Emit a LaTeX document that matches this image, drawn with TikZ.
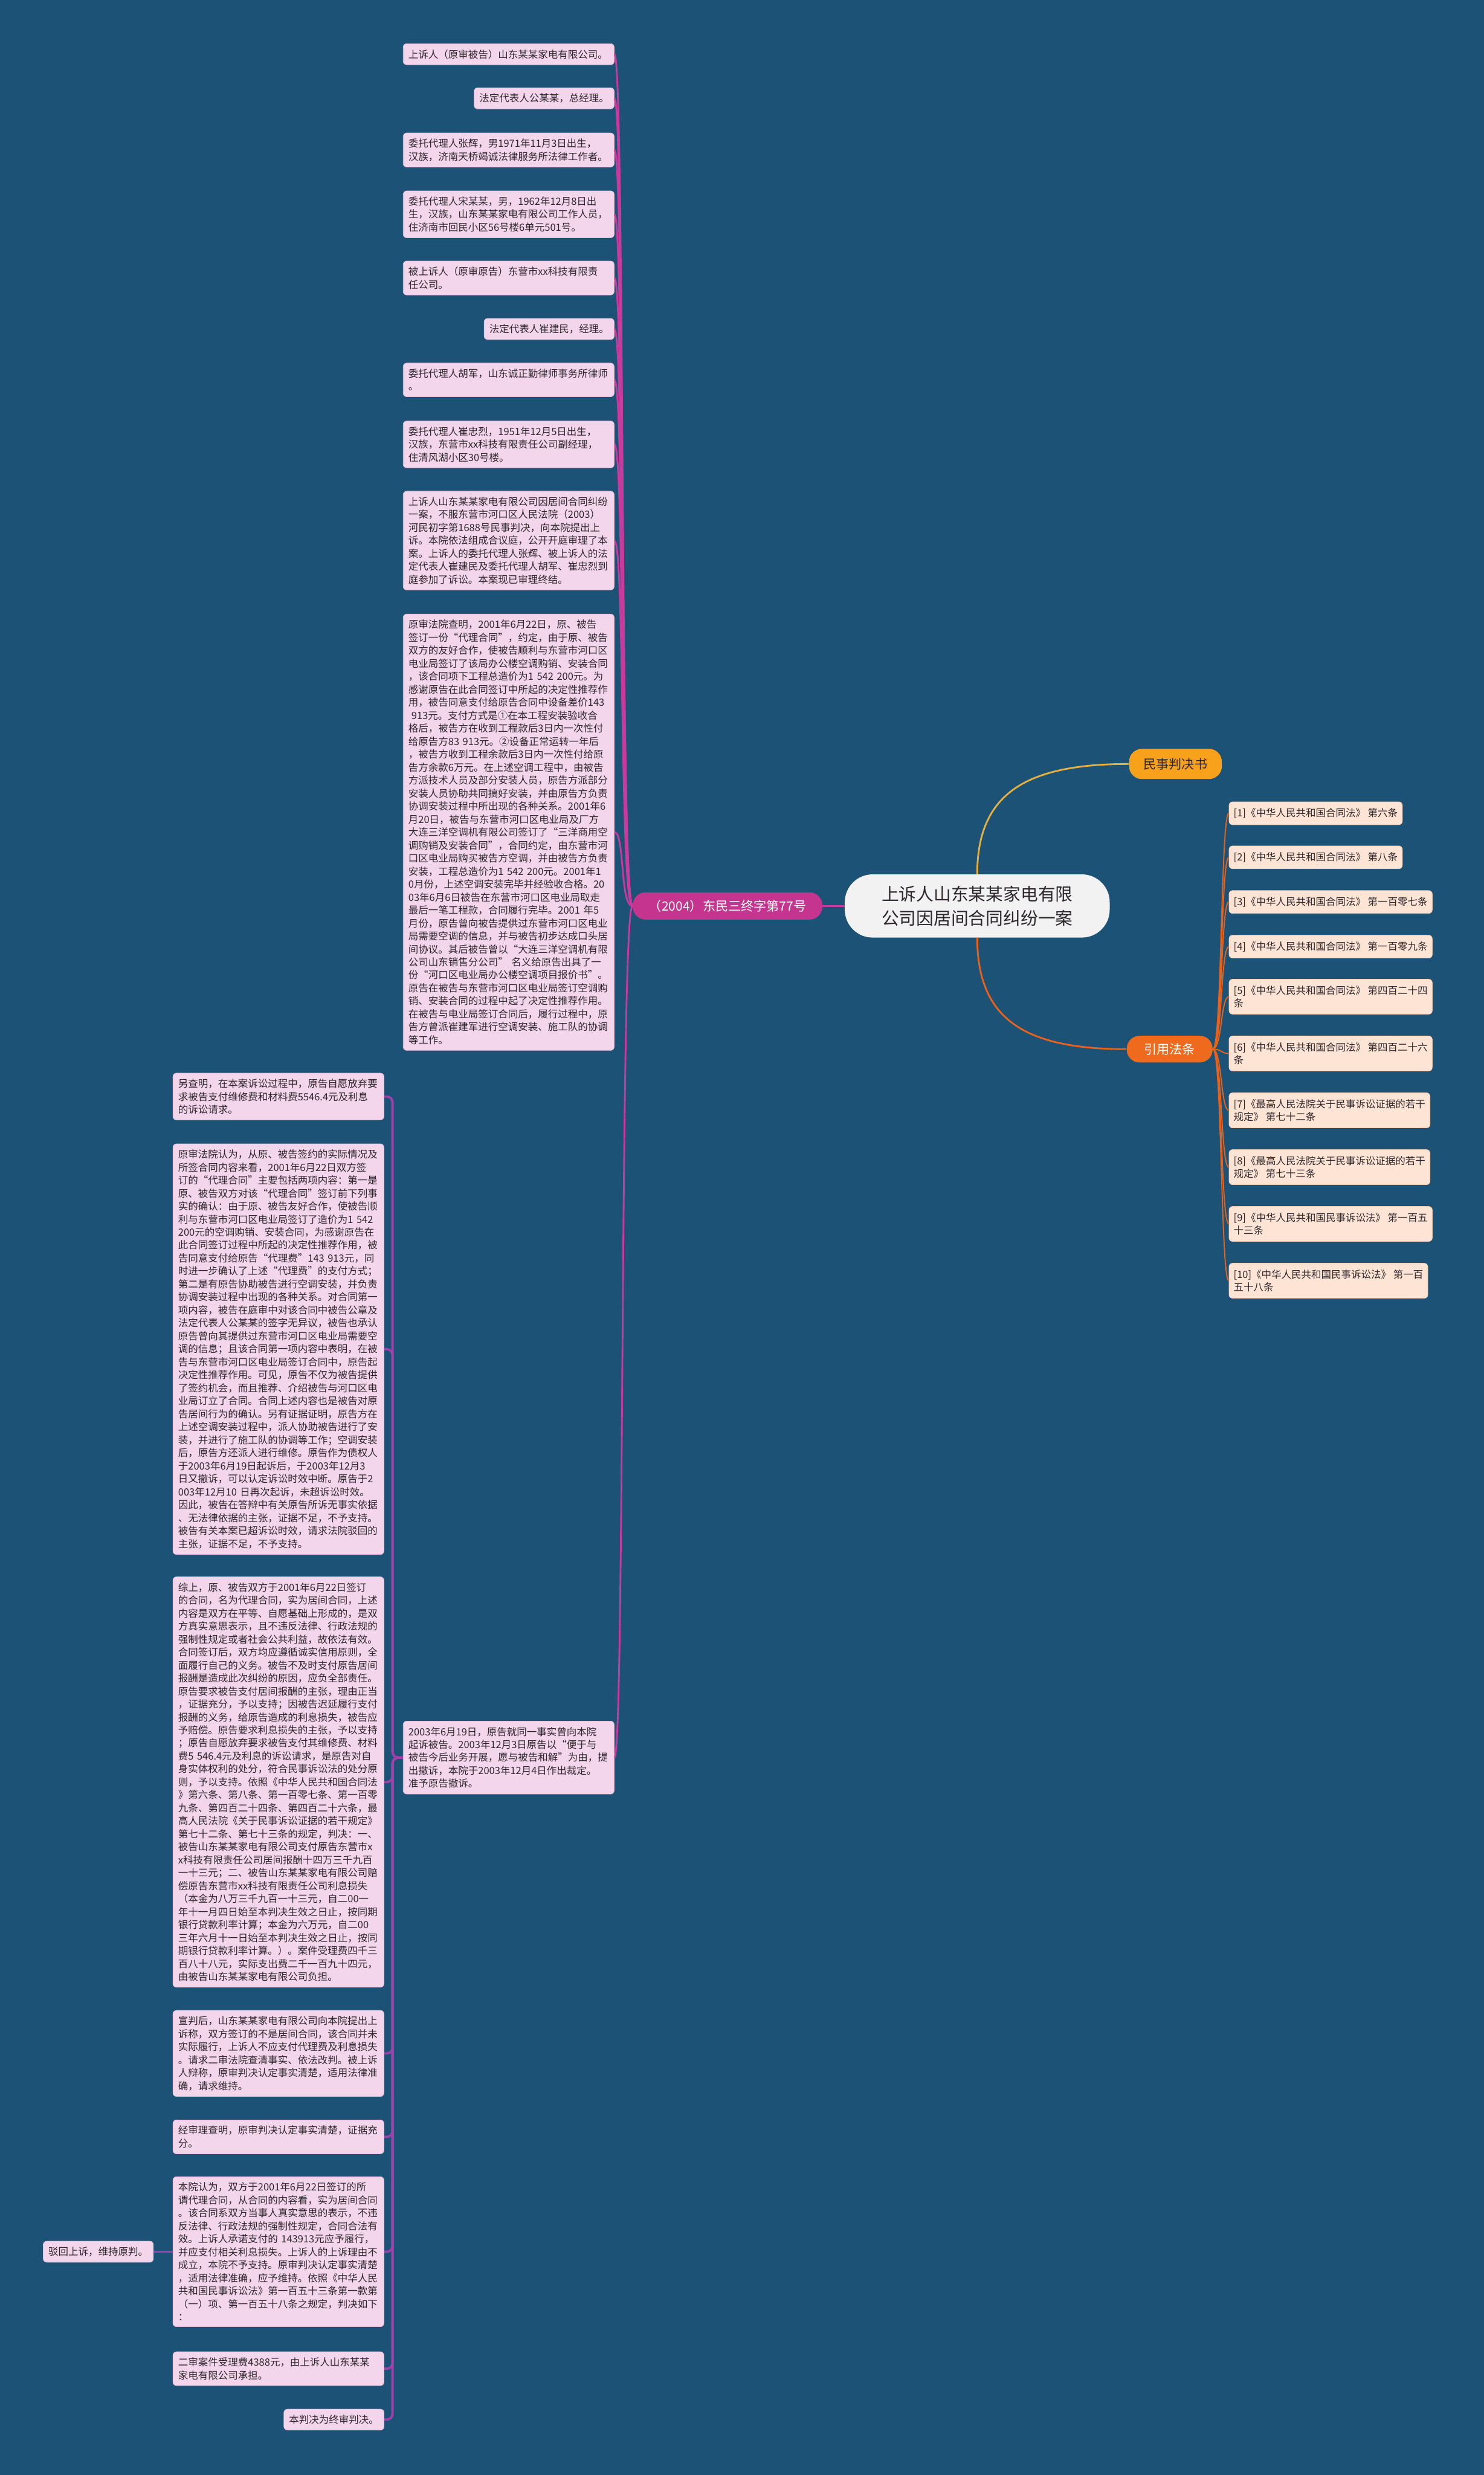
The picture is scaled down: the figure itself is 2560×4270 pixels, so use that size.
\documentclass[tikz,border=0pt]{standalone}
\usepackage{fontspec}
\setmainfont{Noto Sans CJK SC}
\usepackage{tikz}
\usetikzlibrary{positioning}
\definecolor{BgBlue}{RGB}{27,82,118}
\definecolor{LeafPink}{RGB}{244,214,236}
\definecolor{LeafEdge}{RGB}{226,186,214}
\definecolor{LawPeach}{RGB}{253,228,212}
\definecolor{LawEdge}{RGB}{240,200,175}
\definecolor{InkDark}{RGB}{45,38,44}
\definecolor{RootGrey}{RGB}{242,242,242}
\definecolor{BranchMagenta}{RGB}{197,52,143}
\definecolor{LinkMagenta}{RGB}{200,58,158}
\definecolor{TrunkPurple}{RGB}{160,64,170}
\definecolor{GoldTag}{RGB}{248,161,27}
\definecolor{LinkGold}{RGB}{230,176,64}
\definecolor{OrangeTag}{RGB}{240,106,30}
\definecolor{LinkOrange}{RGB}{232,98,28}

\newcommand\leaffont{\fontsize{8.6pt}{11.2pt}\selectfont}
\newcommand\tagfont{\fontsize{11pt}{13pt}\selectfont}
\newcommand\rootfont{\fontsize{15pt}{21pt}\selectfont}

\tikzset{
  leaf/.style={fill=LeafPink, draw=LeafEdge, line width=0.4pt, rounded corners=3pt,
    inner xsep=4.5pt, inner ysep=5pt, align=left, text=InkDark, font=\leaffont},
  leafwide/.style={leaf, text width=173pt},
  lawbox/.style={fill=LawPeach, draw=LawEdge, line width=0.4pt, rounded corners=3pt,
    inner xsep=4pt, inner ysep=5.5pt, align=left, text=InkDark, font=\leaffont},
  tagpill/.style={rounded corners=11pt, inner xsep=0pt, inner ysep=0pt, align=center, font=\tagfont},
  rootbox/.style={fill=RootGrey, text=InkDark, rounded corners=24pt, minimum width=228.5pt,
    minimum height=54.5pt, align=center, font=\rootfont},
  magline/.style={draw=LinkMagenta, line width=1.5pt},
  trunkline/.style={draw=TrunkPurple, line width=2pt, rounded corners=5pt},
  lawline/.style={draw=LinkOrange, line width=1pt},
}

\begin{document}
\begin{tikzpicture}[x=0.5pt,y=-0.5pt]
  \fill[BgBlue] (0,0) rectangle (2560,4270);
  \useasboundingbox (0,0) rectangle (2560,4270);

  % root and the three tags
  \node[rootbox] (root) at (1686,1563) {上诉人山东某某家电有限\\公司因居间合同纠纷一案};
  \node[tagpill, fill=BranchMagenta, text=white, minimum width=163.5pt, minimum height=23.5pt,
        left=19pt of root] (case) {（2004）东民三终字第77号};
  \node[tagpill, fill=GoldTag, text=InkDark, minimum width=80pt, minimum height=26pt] (ruling) at (2028,1318) {民事判决书};
  \node[tagpill, fill=OrangeTag, text=white, minimum width=74pt, minimum height=23pt] (laws) at (2018,1810) {引用法条};

  % parties and facts
  \node[leafwide, anchor=north east] (a1) at (1060,75) {上诉人（原审被告）山东某某家电有限公司。};
  \node[leaf, anchor=north east] (a2) at (1060,151) {法定代表人公某某，总经理。};
  \node[leafwide, anchor=north east] (a3) at (1060,229) {委托代理人张辉，男1971年11月3日出生，\\汉族，济南天桥竭诚法律服务所法律工作者。};
  \node[leafwide, anchor=north east] (a4) at (1060,329) {委托代理人宋某某，男，1962年12月8日出\\生，汉族，山东某某家电有限公司工作人员，\\住济南市回民小区56号楼6单元501号。};
  \node[leafwide, anchor=north east] (a5) at (1060,450) {被上诉人（原审原告）东营市xx科技有限责\\任公司。};
  \node[leaf, anchor=north east] (a6) at (1060,549) {法定代表人崔建民，经理。};
  \node[leafwide, anchor=north east] (a7) at (1060,626) {委托代理人胡军，山东诚正勤律师事务所律师\\。};
  \node[leafwide, anchor=north east] (a8) at (1060,726) {委托代理人崔忠烈，1951年12月5日出生，\\汉族，东营市xx科技有限责任公司副经理，\\住清风湖小区30号楼。};
  \node[leafwide, anchor=north east] (a9) at (1060,847) {上诉人山东某某家电有限公司因居间合同纠纷\\一案，不服东营市河口区人民法院（2003）\\河民初字第1688号民事判决，向本院提出上\\诉。本院依法组成合议庭，公开开庭审理了本\\案。上诉人的委托代理人张辉、被上诉人的法\\定代表人崔建民及委托代理人胡军、崔忠烈到\\庭参加了诉讼。本案现已审理终结。};
  \node[leafwide, anchor=north east] (a10) at (1060,1059) {原审法院查明，2001年6月22日，原、被告\\签订一份“代理合同”，约定，由于原、被告\\双方的友好合作，使被告顺利与东营市河口区\\电业局签订了该局办公楼空调购销、安装合同\\，该合同项下工程总造价为1~542~200元。为\\感谢原告在此合同签订中所起的决定性推荐作\\用，被告同意支付给原告合同中设备差价143\\\hspace{0.3em}913元。支付方式是①在本工程安装验收合\\格后，被告方在收到工程款后3日内一次性付\\给原告方83~913元。②设备正常运转一年后\\，被告方收到工程余款后3日内一次性付给原\\告方余款6万元。在上述空调工程中，由被告\\方派技术人员及部分安装人员，原告方派部分\\安装人员协助共同搞好安装，并由原告方负责\\协调安装过程中所出现的各种关系。2001年6\\月20日，被告与东营市河口区电业局及厂方\\大连三洋空调机有限公司签订了“三洋商用空\\调购销及安装合同”，合同约定，由东营市河\\口区电业局购买被告方空调，并由被告方负责\\安装，工程总造价为1~542~200元。2001年1\\0月份，上述空调安装完毕并经验收合格。20\\03年6月6日被告在东营市河口区电业局取走\\最后一笔工程款，合同履行完毕。2001~年5\\月份，原告曾向被告提供过东营市河口区电业\\局需要空调的信息，并与被告初步达成口头居\\间协议。其后被告曾以“大连三洋空调机有限\\公司山东销售分公司”~名义给原告出具了一\\份“河口区电业局办公楼空调项目报价书”。\\原告在被告与东营市河口区电业局签订空调购\\销、安装合同的过程中起了决定性推荐作用。\\在被告与电业局签订合同后，履行过程中，原\\告方曾派崔建军进行空调安装、施工队的协调\\等工作。};
  \node[leafwide, anchor=north east] (sj) at (1060,2969) {2003年6月19日，原告就同一事实曾向本院\\起诉被告。2003年12月3日原告以“便于与\\被告今后业务开展，愿与被告和解”为由，提\\出撤诉，本院于2003年12月4日作出裁定。\\准予原告撤诉。};

  % judgement texts
  \node[leafwide, anchor=north west] (b1) at (298,1851) {另查明，在本案诉讼过程中，原告自愿放弃要\\求被告支付维修费和材料费5546.4元及利息\\的诉讼请求。};
  \node[leafwide, anchor=north west] (b2) at (298,1973) {原审法院认为，从原、被告签约的实际情况及\\所签合同内容来看，2001年6月22日双方签\\订的“代理合同”主要包括两项内容：第一是\\原、被告双方对该“代理合同”签订前下列事\\实的确认：由于原、被告友好合作，使被告顺\\利与东营市河口区电业局签订了造价为1~542\\200元的空调购销、安装合同，为感谢原告在\\此合同签订过程中所起的决定性推荐作用，被\\告同意支付给原告“代理费”143~913元，同\\时进一步确认了上述“代理费”的支付方式；\\第二是有原告协助被告进行空调安装，并负责\\协调安装过程中出现的各种关系。对合同第一\\项内容，被告在庭审中对该合同中被告公章及\\法定代表人公某某的签字无异议，被告也承认\\原告曾向其提供过东营市河口区电业局需要空\\调的信息；且该合同第一项内容中表明，在被\\告与东营市河口区电业局签订合同中，原告起\\决定性推荐作用。可见，原告不仅为被告提供\\了签约机会，而且推荐、介绍被告与河口区电\\业局订立了合同。合同上述内容也是被告对原\\告居间行为的确认。另有证据证明，原告方在\\上述空调安装过程中，派人协助被告进行了安\\装，并进行了施工队的协调等工作；空调安装\\后，原告方还派人进行维修。原告作为债权人\\于2003年6月19日起诉后，于2003年12月3\\日又撤诉，可以认定诉讼时效中断。原告于2\\003年12月10~日再次起诉，未超诉讼时效。\\因此，被告在答辩中有关原告所诉无事实依据\\、无法律依据的主张，证据不足，不予支持。\\被告有关本案已超诉讼时效，请求法院驳回的\\主张，证据不足，不予支持。};
  \node[leafwide, anchor=north west] (b3) at (298,2720) {综上，原、被告双方于2001年6月22日签订\\的合同，名为代理合同，实为居间合同，上述\\内容是双方在平等、自愿基础上形成的，是双\\方真实意思表示，且不违反法律、行政法规的\\强制性规定或者社会公共利益，故依法有效。\\合同签订后，双方均应遵循诚实信用原则，全\\面履行自己的义务。被告不及时支付原告居间\\报酬是造成此次纠纷的原因，应负全部责任。\\原告要求被告支付居间报酬的主张，理由正当\\，证据充分，予以支持；因被告迟延履行支付\\报酬的义务，给原告造成的利息损失，被告应\\予赔偿。原告要求利息损失的主张，予以支持\\；原告自愿放弃要求被告支付其维修费、材料\\费5~546.4元及利息的诉讼请求，是原告对自\\身实体权利的处分，符合民事诉讼法的处分原\\则，予以支持。依照《中华人民共和国合同法\\》第六条、第八条、第一百零七条、第一百零\\九条、第四百二十四条、第四百二十六条，最\\高人民法院《关于民事诉讼证据的若干规定》\\第七十二条、第七十三条的规定，判决：一、\\被告山东某某家电有限公司支付原告东营市x\\x科技有限责任公司居间报酬十四万三千九百\\一十三元；二、被告山东某某家电有限公司赔\\偿原告东营市xx科技有限责任公司利息损失\\（本金为八万三千九百一十三元，自二00一\\年十一月四日始至本判决生效之日止，按同期\\银行贷款利率计算；本金为六万元，自二00\\三年六月十一日始至本判决生效之日止，按同\\期银行贷款利率计算。）。案件受理费四千三\\百八十八元，实际支出费二千一百九十四元，\\由被告山东某某家电有限公司负担。};
  \node[leafwide, anchor=north west] (b4) at (298,3468) {宣判后，山东某某家电有限公司向本院提出上\\诉称，双方签订的不是居间合同，该合同并未\\实际履行，上诉人不应支付代理费及利息损失\\。请求二审法院查清事实、依法改判。被上诉\\人辩称，原审判决认定事实清楚，适用法律准\\确，请求维持。};
  \node[leafwide, anchor=north west] (b5) at (298,3657) {经审理查明，原审判决认定事实清楚，证据充\\分。};
  \node[leafwide, anchor=north west] (b6) at (298,3755) {本院认为，双方于2001年6月22日签订的所\\谓代理合同，从合同的内容看，实为居间合同\\。该合同系双方当事人真实意思的表示，不违\\反法律、行政法规的强制性规定，合同合法有\\效。上诉人承诺支付的~143913元应予履行，\\并应支付相关利息损失。上诉人的上诉理由不\\成立，本院不予支持。原审判决认定事实清楚\\，适用法律准确，应予维持。依照《中华人民\\共和国民事诉讼法》第一百五十三条第一款第\\（一）项、第一百五十八条之规定，判决如下\\：};
  \node[leaf, left=16.5pt of b6] (reject) {驳回上诉，维持原判。};
  \node[leafwide, anchor=north west] (b7) at (298,4057) {二审案件受理费4388元，由上诉人山东某某\\家电有限公司承担。};
  \node[leaf, anchor=north east] (b8) at (663,4156) {本判决为终审判决。};

  % cited laws
  \node[lawbox, anchor=north west] (f1) at (2120,1383) {[1]《中华人民共和国合同法》 第六条};
  \node[lawbox, anchor=north west] (f2) at (2120,1459) {[2]《中华人民共和国合同法》 第八条};
  \node[lawbox, anchor=north west] (f3) at (2120,1536) {[3]《中华人民共和国合同法》 第一百零七条};
  \node[lawbox, anchor=north west] (f4) at (2120,1613) {[4]《中华人民共和国合同法》 第一百零九条};
  \node[lawbox, anchor=north west] (f5) at (2120,1689) {[5]《中华人民共和国合同法》 第四百二十四\\条};
  \node[lawbox, anchor=north west] (f6) at (2120,1787) {[6]《中华人民共和国合同法》 第四百二十六\\条};
  \node[lawbox, anchor=north west] (f7) at (2120,1885) {[7]《最高人民法院关于民事诉讼证据的若干\\规定》 第七十二条};
  \node[lawbox, anchor=north west] (f8) at (2120,1983) {[8]《最高人民法院关于民事诉讼证据的若干\\规定》 第七十三条};
  \node[lawbox, anchor=north west] (f9) at (2120,2081) {[9]《中华人民共和国民事诉讼法》 第一百五\\十三条};
  \node[lawbox, anchor=north west] (f10) at (2120,2179) {[10]《中华人民共和国民事诉讼法》 第一百\\五十八条};

  % links
  \draw[magline] (root.west) -- (case.east);
  \draw[draw=LinkGold, line width=1.5pt] (root.north) .. controls +(0,-139) and +(-178,0) .. (ruling.west);
  \draw[draw=LinkOrange, line width=1.5pt] (root.south) .. controls +(0,142) and +(-174,0) .. (laws.west);
  \foreach \n in {a1,a2,a3,a4,a5,a6,a7,a8,a9,a10,sj}
    \draw[magline] (case.west) .. controls +(-22,0) and +(18,0) .. (\n.east);
  \coordinate (hub) at ([xshift=-9pt]sj.west);
  \foreach \n in {b1,b2,b3,b4,b5,b6,b7,b8}
    \draw[trunkline] (sj.west) -- (hub) |- (\n.east);
  \draw[trunkline] (b6.west) -- (reject.east);
  \foreach \n in {1,...,10}
    \draw[lawline] (laws.east) .. controls +(16,0) and +(-14,0) .. (f\n.west);
\end{tikzpicture}
\end{document}
